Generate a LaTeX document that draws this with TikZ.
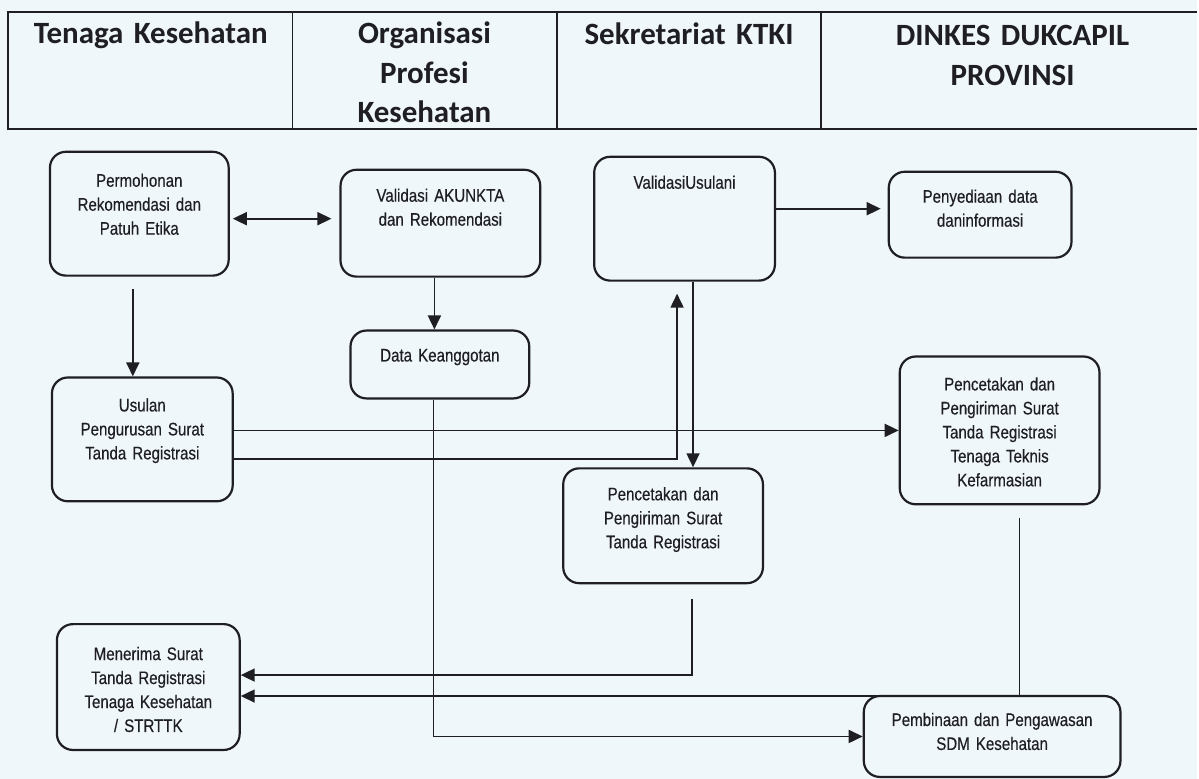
\documentclass[tikz,border=0pt]{standalone}
\usepackage{fontspec}
\setmainfont{Liberation Sans}[FakeStretch=0.83,FakeBold=0.35]
\newfontfamily\headfont{Carlito}
\usepackage{tikz}
\usetikzlibrary{arrows.meta}
\definecolor{paper}{RGB}{239,247,251}
\definecolor{ink}{RGB}{30,30,35}

\begin{document}
\begin{tikzpicture}[x=0.5pt, y=-0.5pt,
    >={Triangle[length=7pt,width=6.5pt]},
    box/.style={draw=ink, rounded corners=8pt, line width=1.1pt, inner sep=0pt, align=center,
      anchor=base, text=ink, font=\fontsize{9.1}{12}\selectfont},
    head/.style={anchor=base, align=center, text=ink, font=\headfont\bfseries\fontsize{15.5}{19.75}\selectfont},
    link/.style={draw=ink, line width=0.9pt}]
    \fill[paper] (0,0) rectangle (1199,780);
    \draw[ink, line width=0.8pt] (1199,12) -- (8,12) -- (8,129) -- (1199,129);
    \draw[ink, line width=0.8pt] (293,12) -- (293,129) (558,12) -- (558,129) (822,12) -- (822,129);
    \node[head, text width=130pt] (hTenaga) at (151,44) {Tenaga Kesehatan};
    \node[head, text width=130pt] (hOrganisasi) at (425,44) {Organisasi\\Profesi\\Kesehatan};
    \node[head, text width=130pt] (hSekretariat) at (690,45) {Sekretariat KTKI};
    \node[head, text width=180pt] (hDinkes) at (1014,46) {DINKES DUKCAPIL\\PROVINSI};

    \node[box, text width=89.5pt, text height=17.5pt, text depth=44.5pt] (permohonan) at (139.5,187) {Permohonan\\Rekomendasi dan\\Patuh Etika};
    \node[box, text width=100pt, text height=16pt, text depth=37.5pt] (validasi) at (441,202) {Validasi AKUNKTA\\dan Rekomendasi};
    \node[box, text width=90.5pt, text height=16pt, text depth=46pt] (usulani) at (685.5,189) {ValidasiUsulani};
    \node[box, text width=91.5pt, text height=15.5pt, text depth=27.5pt] (penyediaan) at (981.5,203) {Penyediaan data\\daninformasi};
    \node[box, text width=89.5pt, text height=15.5pt, text depth=18.5pt] (anggota) at (440.5,362) {Data Keanggotan};
    \node[box, text width=90.5pt, text height=17pt, text depth=45pt] (usulan) at (142.5,412) {Usulan\\Pengurusan Surat\\Tanda Registrasi};
    \node[box, text width=100pt, text height=17pt, text depth=57pt] (cetakTTK) at (1001,391) {Pencetakan dan\\Pengiriman Surat\\Tanda Registrasi\\Tenaga Teknis\\Kefarmasian};
    \node[box, text width=100pt, text height=16pt, text depth=41.5pt] (cetakSTR) at (664,501) {Pencetakan dan\\Pengiriman Surat\\Tanda Registrasi};
    \node[box, text width=128.5pt, text height=15pt, text depth=25.5pt] (pembinaan) at (993.5,727) {Pembinaan dan Pengawasan\\SDM Kesehatan};
    \node[box, text width=91.5pt, text height=18pt, text depth=45pt] (menerima) at (148.5,661) {Menerima Surat\\Tanda Registrasi\\Tenaga Kesehatan\\/ STRTTK};

    \draw[link, <->, shorten <=1.5pt, shorten >=4pt] ([yshift=-2.5pt]permohonan.east) -- ([yshift=-2.5pt]permohonan.east -| validasi.west);
    \draw[link, ->, shorten >=3.5pt] ([yshift=5pt]usulani.east) -- ([yshift=5pt]usulani.east -| penyediaan.west);
    \draw[link, ->] ([xshift=-3pt]validasi.south) -- ([xshift=-3pt]validasi.south |- anggota.north);
    \draw[link, ->, shorten <=6pt] ([xshift=-3.25pt]permohonan.south) -- ([xshift=-3.25pt]permohonan.south |- usulan.north);
    \draw[link, ->] (usulan.east |- cetakTTK.west) -- (cetakTTK.west);
    \draw[link, ->, shorten >=6pt] ([yshift=-10pt]usulan.east) -| ([xshift=-3.75pt]usulani.south);
    \draw[link, ->] ([xshift=4.25pt]usulani.south) -- ([xshift=4.25pt]usulani.south |- cetakSTR.north);
    \draw[link, ->, shorten <=7.5pt] ([xshift=14.5pt]cetakSTR.south) |- ([yshift=6pt]menerima.east);
    \draw[link, ->, shorten <=6.5pt] ([xshift=10pt]cetakTTK.south) |- ([yshift=-4.5pt]menerima.east);
    \draw[link, ->] ([xshift=-3.25pt]anggota.south) |- (pembinaan.west);
\end{tikzpicture}
\end{document}
